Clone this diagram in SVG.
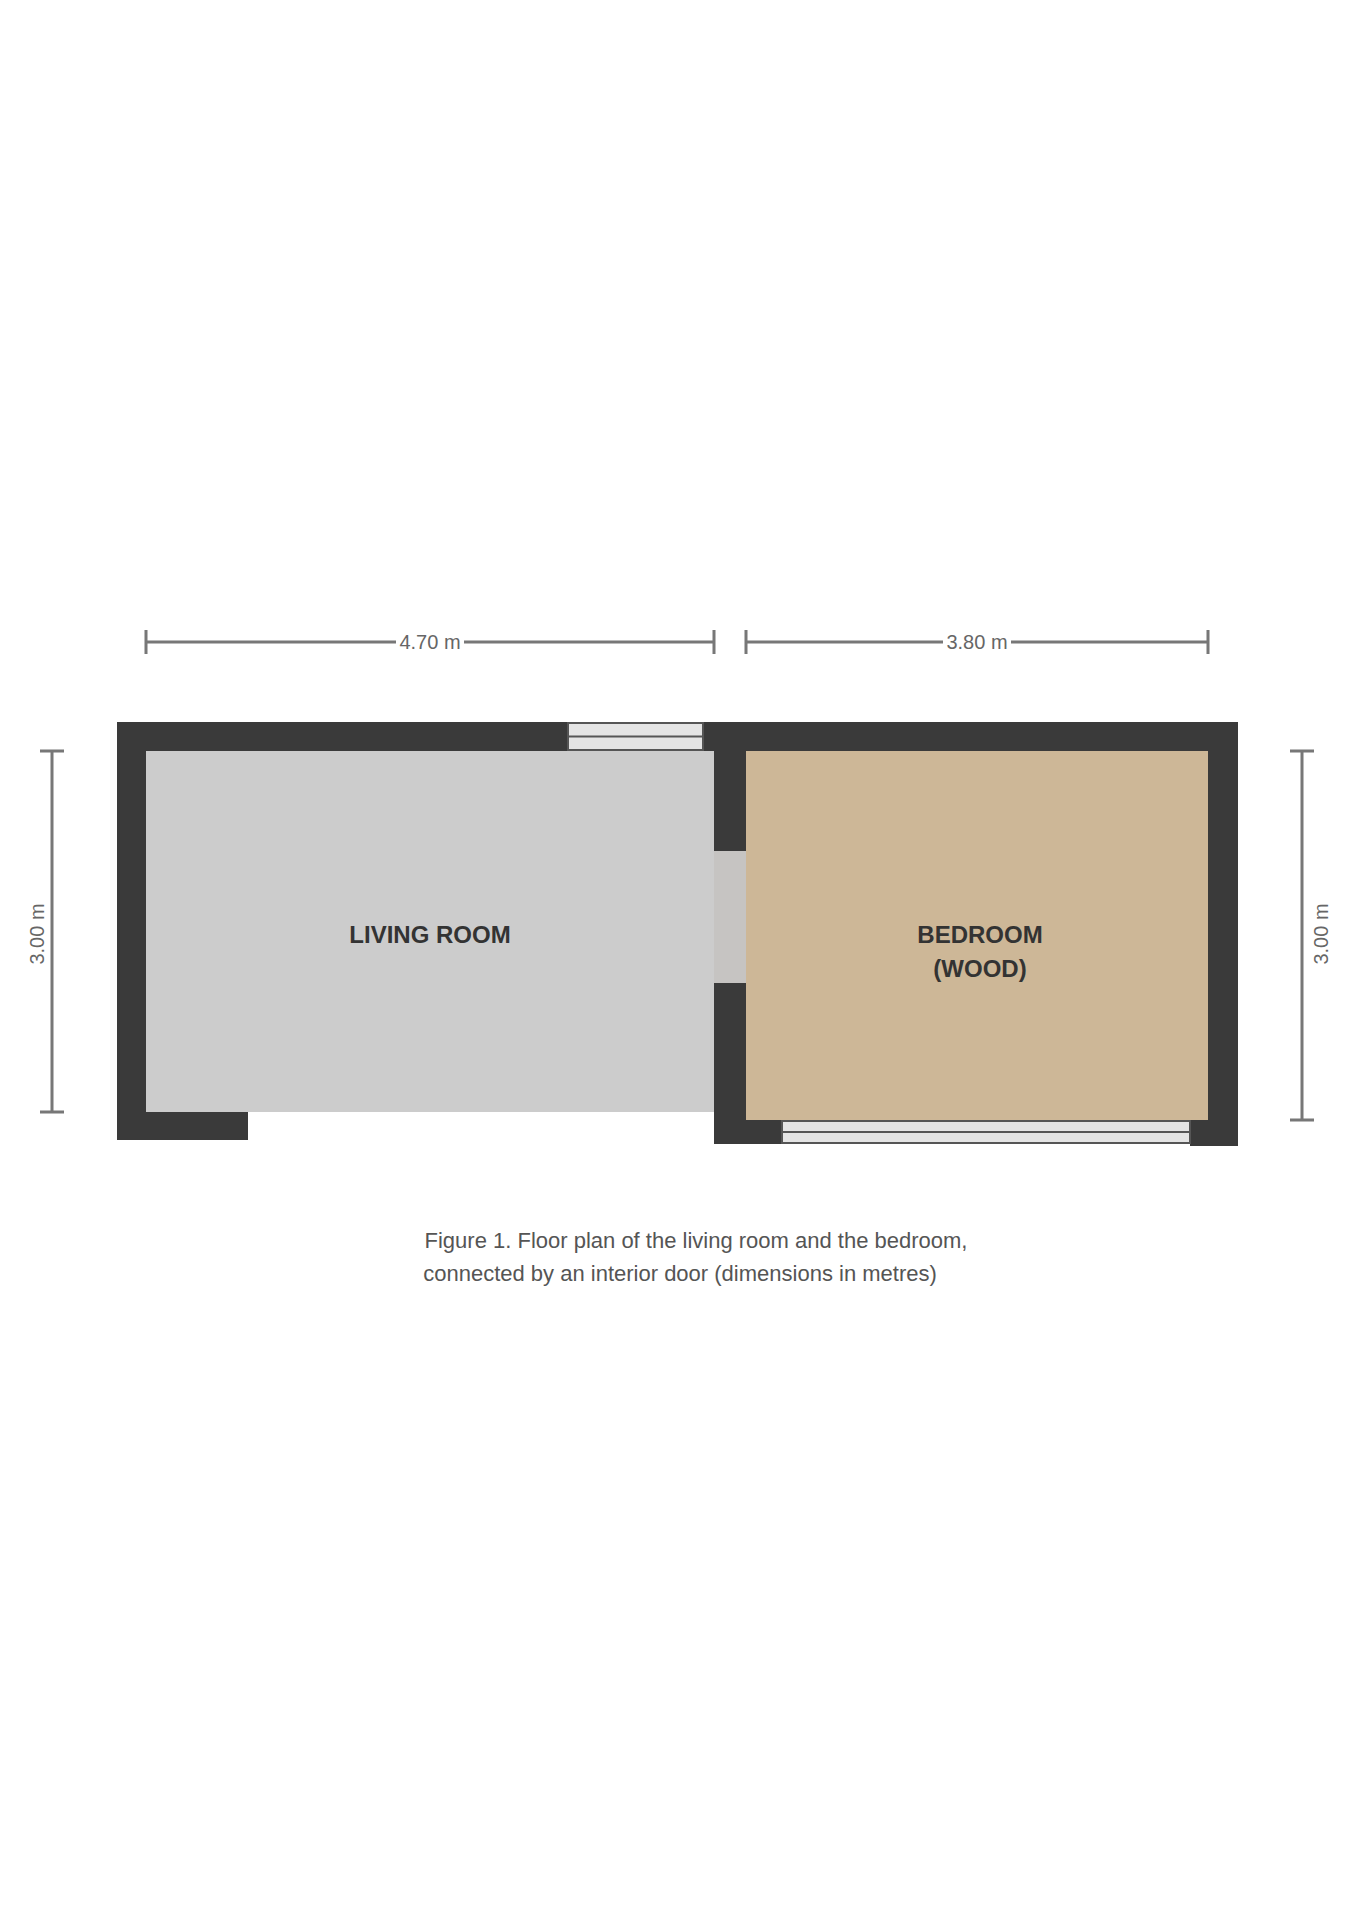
<svg xmlns="http://www.w3.org/2000/svg" width="1358" height="1920" viewBox="0 0 1358 1920">
<style>
.wall{fill:#3a3a3a}
.win{fill:#e4e4e4;stroke:#555;stroke-width:2}
.winl{stroke:#555;stroke-width:2}
.dim{stroke:#777;stroke-width:3;fill:none}
.dimtxt{font-family:'Liberation Sans',Arial,sans-serif;font-size:20px;fill:#666;text-anchor:middle}
.lbl{font-family:'Liberation Sans',Arial,sans-serif;font-weight:bold;font-size:24px;fill:#333;text-anchor:middle}
.cap{font-family:'Liberation Sans',Arial,sans-serif;font-size:22px;fill:#555;text-anchor:middle}
</style>
<rect width="1358" height="1920" fill="#fff"/>
<g id="room-left">
<rect x="146" y="751" width="568" height="361" fill="#cccccc"/>
<text class="lbl" x="430" y="943">LIVING ROOM</text>
</g>
<g id="room-right">
<rect x="746" y="751" width="462" height="369" fill="#cdb797"/>
<text class="lbl" x="980" y="943">BEDROOM</text>
<text class="lbl" x="980" y="977">(WOOD)</text>
</g>
<g id="walls">
<rect class="wall" x="117" y="722" width="1121" height="29"/>
<rect class="wall" x="117" y="722" width="29" height="418"/>
<rect class="wall" x="117" y="1112" width="131" height="28"/>
<rect class="wall" x="714" y="722" width="32" height="422"/>
<rect class="wall" x="1208" y="722" width="30" height="424"/>
<rect class="wall" x="714" y="1120" width="68" height="24"/>
<rect class="wall" x="1190" y="1120" width="48" height="26"/>
</g>
<g id="door">
<rect x="714" y="851" width="32" height="132" fill="#c6c4c2"/>
</g>
<g id="window-top">
<rect class="win" x="568" y="723" width="135" height="27"/>
<line class="winl" x1="568" y1="736.5" x2="703" y2="736.5"/>
</g>
<g id="window-bottom">
<rect class="win" x="782" y="1121" width="408" height="22"/>
<line class="winl" x1="782" y1="1132" x2="1190" y2="1132"/>
</g>
<g id="dimensions">
<path class="dim" d="M146 642H714M146 630V654M714 630V654"/>
<path class="dim" d="M746 642H1208M746 630V654M1208 630V654"/>
<path class="dim" d="M52 751V1112M40 751H64M40 1112H64"/>
<path class="dim" d="M1302 751V1120M1290 751H1314M1290 1120H1314"/>
<rect x="396" y="630" width="68" height="26" fill="#fff"/>
<text class="dimtxt" x="430" y="649">4.70 m</text>
<rect x="943" y="630" width="68" height="26" fill="#fff"/>
<text class="dimtxt" x="977" y="649">3.80 m</text>
<text class="dimtxt" transform="translate(44 934) rotate(-90)">3.00 m</text>
<text class="dimtxt" transform="translate(1328 934) rotate(-90)">3.00 m</text>
</g>
<g id="caption">
<text class="cap" x="696" y="1248">Figure 1. Floor plan of the living room and the bedroom,</text>
<text class="cap" x="680" y="1281">connected by an interior door (dimensions in metres)</text>
</g>
</svg>
